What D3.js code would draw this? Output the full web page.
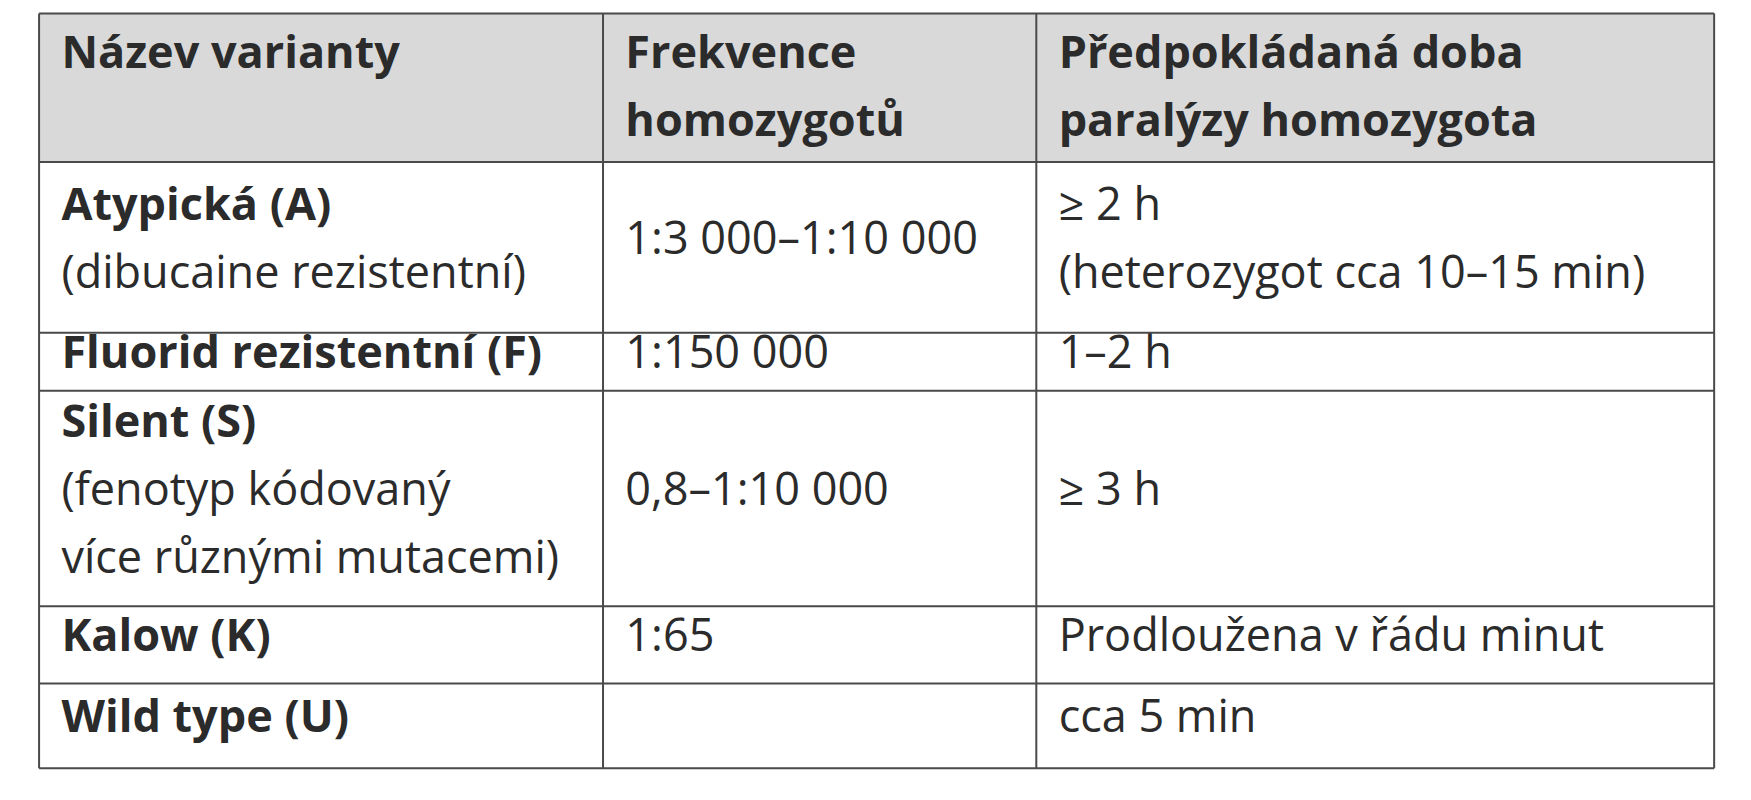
<!DOCTYPE html>
<html><head><meta charset="utf-8">
<script src="https://cdn.jsdelivr.net/npm/d3@7"></script>
<style>body{margin:0;background:#fff}</style></head>
<body><svg id="c" width="1751" height="800"></svg>
<script>
const headers = [["Název varianty"],["Frekvence","homozygotů"],["Předpokládaná doba","paralýzy homozygota"]];
const variantNames = [["Atypická (A)"],["Fluorid rezistentní (F)"],["Silent (S)"],["Kalow (K)"],["Wild type (U)"]];
const variantNotes = [["(dibucaine rezistentní)"],[],["(fenotyp kódovaný","více různými mutacemi)"],[],[]];
const frequencies = [["1:3 000–1:10 000"],["1:150 000"],["0,8–1:10 000"],["1:65"],[]];
const durations = [["≥ 2 h","(heterozygot cca 10–15 min)"],["1–2 h"],["≥ 3 h"],["Prodloužena v řádu minut"],["cca 5 min"]];

const k = 1751/1568;
const colEdges = [35,540,928,1535].map(v=>v*k);
const rowEdges = [12,145,298,350,543,612,688].map(v=>v*k);
const lh = 61*k, fs = 45, font = "'Open Sans', 'Noto Sans', sans-serif";
const svg = d3.select("#c");
const color = "#2b2b2b";
svg.append("rect").attr("x",colEdges[0]).attr("y",rowEdges[0]).attr("width",colEdges[3]-colEdges[0]).attr("height",rowEdges[1]-rowEdges[0]).attr("fill","#d9d9d9");

function cell(ci, ri, lines, top) {
  const x = colEdges[ci] + 20*k;
  const yc = (rowEdges[ri]+rowEdges[ri+1])/2;
  const y0 = top ? rowEdges[ri]+38*k : yc - (lines.length-1)*lh/2 - 5*k;
  const t = svg.append("text").attr("font-family",font).attr("font-size",fs).attr("fill",color).attr("dominant-baseline","middle");
  lines.forEach((l,i)=>{
    t.append("tspan").attr("x",x).attr("y",y0+i*lh).attr("font-weight",l.bold?"bold":"normal").text(l.t);
  });
}
headers.forEach((h,ci)=>cell(ci,0,h.map(t=>({t,bold:true})),true));
variantNames.forEach((n,i)=>{
  cell(0,i+1,n.map(t=>({t,bold:true})).concat(variantNotes[i].map(t=>({t,bold:false}))),false);
  cell(1,i+1,frequencies[i].map(t=>({t})),false);
  cell(2,i+1,durations[i].map(t=>({t})),false);
});
const g = svg.append("g").attr("stroke","#4a4a4a").attr("stroke-width",2);
rowEdges.forEach(y=>g.append("line").attr("x1",colEdges[0]).attr("x2",colEdges[3]).attr("y1",y).attr("y2",y));
colEdges.forEach(x=>g.append("line").attr("x1",x).attr("x2",x).attr("y1",rowEdges[0]).attr("y2",rowEdges[6]));
</script></body></html>
